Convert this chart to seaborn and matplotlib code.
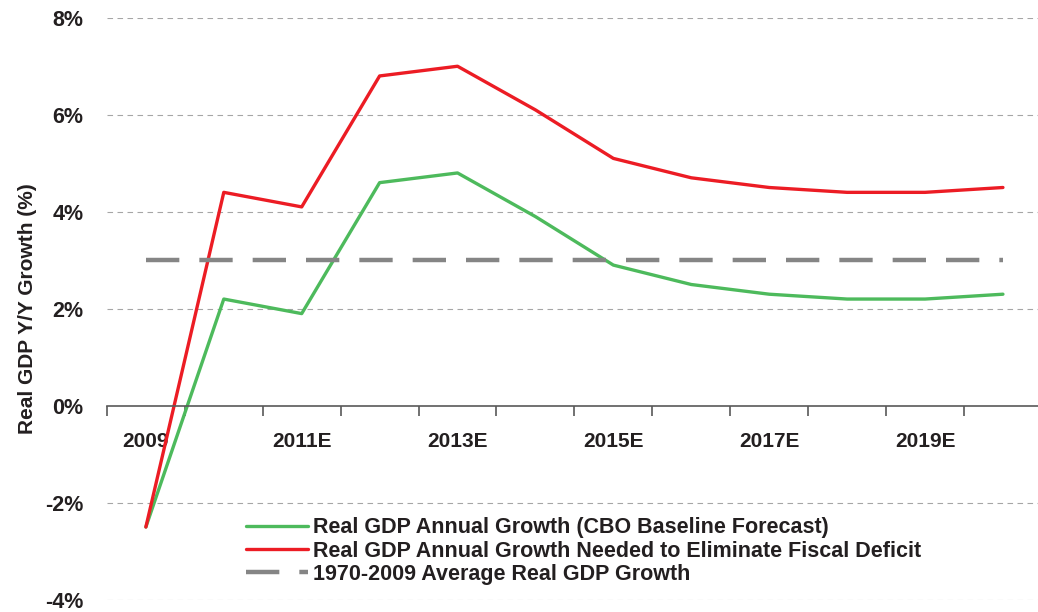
import numpy as np
import pandas as pd
import seaborn as sns
import matplotlib.pyplot as plt
from matplotlib.ticker import FixedLocator

# data
years = ["2009", "2010E", "2011E", "2012E", "2013E", "2014E", "2015E",
         "2016E", "2017E", "2018E", "2019E", "2020E"]
cbo_growth = [-2.5, 2.2, 1.9, 4.6, 4.8, 3.9, 2.9, 2.5, 2.3, 2.2, 2.2, 2.3]
needed_growth = [-2.5, 4.4, 4.1, 6.8, 7.0, 6.1, 5.1, 4.7, 4.5, 4.4, 4.4, 4.5]
avg_growth = [3.0] * len(years)
y_ticks = [-4, -2, 0, 2, 4, 6, 8]

lbl_cbo = "Real GDP Annual Growth (CBO Baseline Forecast)"
lbl_need = "Real GDP Annual Growth Needed to Eliminate Fiscal Deficit"
lbl_avg = "1970-2009 Average Real GDP Growth"

df = pd.DataFrame({"x": np.arange(len(years)), "cbo": cbo_growth,
                   "need": needed_growth, "avg": avg_growth})

sns.set_style("white")
plt.rcParams["font.family"] = ["Liberation Sans", "DejaVu Sans"]
plt.rcParams["font.weight"] = "bold"
txt_col = "#231f20"

fig = plt.figure(figsize=(10.38, 6.12), dpi=100)
ax = fig.add_axes([0.103, 0.02, 0.897, 0.951])

sns.lineplot(data=df, x="x", y="cbo", ax=ax, color="#4dba5c", lw=2.4, label=lbl_cbo)
sns.lineplot(data=df, x="x", y="need", ax=ax, color="#ec1c24", lw=2.4, label=lbl_need)
sns.lineplot(data=df, x="x", y="avg", ax=ax, color="#858585", lw=3.2,
             dashes=False, label=lbl_avg)
ax.lines[2].set_dashes([7.5, 4.5])

ax.set_xlim(-0.5, 11.45)
ax.set_ylim(-4, 8)

# gridlines
for t in y_ticks:
    if t != 0:
        ax.axhline(t, color="#a6a6a6", lw=0.8, ls=(0, (5, 4)), zorder=0)

ax.set_yticks(y_ticks)
ax.set_yticklabels([f"{t}%" for t in y_ticks])
ax.tick_params(axis="y", left=False, length=0, pad=17, labelsize=15.5,
               labelcolor=txt_col)

# x axis at zero, labels every other year
ax.set_xticks(np.arange(0, len(years), 2))
ax.set_xticklabels(years[::2])
ax.xaxis.set_minor_locator(FixedLocator(np.arange(-0.5, len(years), 1)))
ax.tick_params(axis="x", which="major", bottom=True, length=0, pad=19,
               labelsize=15, labelcolor=txt_col)
ax.tick_params(axis="x", which="minor", bottom=True, length=7, width=1.2,
               color="#595959", direction="out")

for s in ["top", "right", "left"]:
    ax.spines[s].set_visible(False)
ax.spines["bottom"].set_position(("data", 0))
ax.spines["bottom"].set_color("#595959")
ax.spines["bottom"].set_linewidth(1.2)

ax.set_xlabel("")
ax.set_ylabel("Real GDP Y/Y Growth (%)", fontsize=15, fontweight="bold",
              color=txt_col, labelpad=6)

leg = ax.legend(loc="lower left", bbox_to_anchor=(0.133, 0.0), frameon=False,
                fontsize=15.5, handlelength=2.9, handletextpad=0.2,
                labelspacing=0.1, borderaxespad=0.3)
for txt in leg.get_texts():
    txt.set_fontweight("bold")
    txt.set_color(txt_col)

fig.savefig("out.png", dpi=100)
